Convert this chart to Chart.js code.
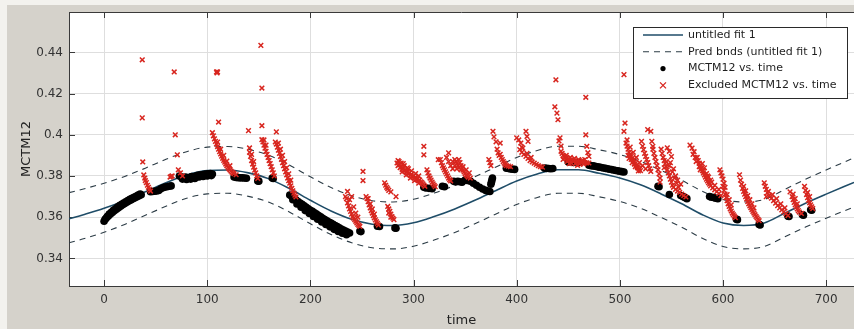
<!DOCTYPE html>
<html lang="en">
<head>
  <meta charset="UTF-8">
  <title>MCTM12 vs. time</title>
  <script src="https://cdn.jsdelivr.net/npm/chart.js"></script>
  <style>
    html, body { margin: 0; padding: 0; overflow: hidden; background: #f3f2ee; }
    canvas { display: block; }
  </style>
</head>
<body>
  <canvas id="fitChart" width="854" height="329"></canvas>

  <script>
    // fitted curve and prediction bounds, sampled along time
    const fitTime  = [-34, -20, 0, 20, 40, 60, 80, 100, 120, 140, 160, 180, 200, 220, 240, 260, 280, 300, 320, 340, 360,
                      380, 400, 420, 440, 460, 480, 500, 520, 540, 560, 580, 600, 620, 640, 660, 680, 700, 727];
    const fitValue = [0.3592, 0.3612, 0.3643, 0.3680, 0.3723, 0.3767, 0.3805, 0.3826, 0.3829, 0.3815, 0.3786, 0.3738,
                      0.3682, 0.3630, 0.3590, 0.3566, 0.3560, 0.3573, 0.3603, 0.3640, 0.3683, 0.3730, 0.3776, 0.3810,
                      0.3830, 0.3830, 0.3813, 0.3790, 0.3757, 0.3713, 0.3665, 0.3612, 0.3572, 0.3560, 0.3572, 0.3620,
                      0.3668, 0.3712, 0.3769];
    const upperBound = [0.3719, 0.3737, 0.3765, 0.3798, 0.3838, 0.3881, 0.3918, 0.3940, 0.3943, 0.3929, 0.3900, 0.3852,
                        0.3796, 0.3744, 0.3704, 0.3680, 0.3674, 0.3687, 0.3717, 0.3754, 0.3797, 0.3844, 0.3890, 0.3924,
                        0.3944, 0.3944, 0.3927, 0.3904, 0.3871, 0.3827, 0.3779, 0.3726, 0.3686, 0.3674, 0.3686, 0.3735,
                        0.3784, 0.3829, 0.3888];
    const lowerBound = [0.3476, 0.3495, 0.3527, 0.3565, 0.3609, 0.3653, 0.3692, 0.3713, 0.3716, 0.3701, 0.3672, 0.3624,
                        0.3568, 0.3516, 0.3476, 0.3452, 0.3446, 0.3459, 0.3489, 0.3526, 0.3569, 0.3616, 0.3662, 0.3696,
                        0.3716, 0.3716, 0.3699, 0.3676, 0.3643, 0.3599, 0.3551, 0.3498, 0.3458, 0.3446, 0.3458, 0.3505,
                        0.3552, 0.3595, 0.3650];

    // MCTM12 samples used in the fit: [time, value]
    const included = [
      [0,0.3580],[1,0.3590],[2,0.3595],[3,0.3603],[4,0.3605],[5,0.3615],[6,0.3614],[7,0.3624],[8,0.3623],[9,0.3633],
      [10,0.3631],[11,0.3641],[12,0.3639],[13,0.3649],[14,0.3646],[15,0.3656],[16,0.3653],[17,0.3663],[18,0.3660],
      [19,0.3669],[20,0.3666],[21,0.3675],[22,0.3672],[23,0.3681],[24,0.3678],[25,0.3687],[26,0.3684],[27,0.3692],
      [28,0.3689],[29,0.3697],[30,0.3694],[31,0.3702],[32,0.3699],[33,0.3707],[34,0.3704],[35,0.3712],[36,0.3709],
      [45,0.3724],[47,0.3725],[49,0.3726],[51,0.3727],[53,0.3730],[55,0.3738],[57,0.3743],[59,0.3746],[61,0.3748],
      [63,0.3750],[65,0.3752],
      [73,0.3800],[75,0.3795],[77,0.3792],[79,0.3795],[81,0.3790],[83,0.3793],[85,0.3797],[87,0.3795],[89,0.3800],
      [91,0.3803],[93,0.3805],[95,0.3806],[97,0.3808],[99,0.3810],[101,0.3811],[103,0.3812],[105,0.3810],
      [76,0.3785],[80,0.3783],[84,0.3785],[88,0.3788],[92,0.3795],[96,0.3798],[100,0.3800],[104,0.3802],
      [126,0.3795],[128,0.3793],[130,0.3792],[132,0.3791],[134,0.3791],[136,0.3790],[138,0.3789],
      [149,0.3776],[150,0.3775],[163,0.3790],[164,0.3788],
      [180,0.3708],[182,0.3700],[184,0.3692],[186,0.3684],[188,0.3676],[190,0.3669],[192,0.3662],[194,0.3655],
      [196,0.3648],[198,0.3641],[200,0.3634],[202,0.3628],[204,0.3621],[206,0.3615],[208,0.3608],[210,0.3602],
      [212,0.3595],[214,0.3589],[216,0.3583],[218,0.3577],[220,0.3571],[222,0.3565],[224,0.3560],[226,0.3554],
      [228,0.3549],[230,0.3543],[232,0.3538],[234,0.3533],[236,0.3528],[238,0.3523],
      [183,0.3685],[187,0.3664],[191,0.3648],[195,0.3632],[199,0.3618],[203,0.3603],[207,0.3590],[211,0.3577],
      [215,0.3565],[219,0.3553],[223,0.3541],[227,0.3531],[231,0.3522],[235,0.3515],
      [248,0.3533],[249,0.3530],[265,0.3556],[267,0.3555],[282,0.3548],[283,0.3546],
      [310,0.3745],[312,0.3742],[315,0.3740],[318,0.3738],[328,0.3750],[330,0.3748],
      [339,0.3774],[341,0.3772],[343,0.3774],[345,0.3772],[347,0.3770],[350,0.3780],[352,0.3778],
      [355,0.3775],[358,0.3765],[361,0.3755],[364,0.3745],[367,0.3737],[370,0.3730],[372,0.3727],[374,0.3725],
      [375,0.3760],[375.5,0.3770],[376,0.3780],[376.5,0.3790],
      [390,0.3838],[392,0.3836],[394,0.3834],[396,0.3833],[398,0.3832],
      [427,0.3838],[429,0.3837],[431,0.3836],[433,0.3835],[435,0.3836],
      [450,0.3868],[455,0.3866],[460,0.3865],
      [470,0.3852],[472,0.3850],[474,0.3849],[476,0.3847],[478,0.3845],[480,0.3843],[482,0.3841],[484,0.3839],
      [486,0.3837],[488,0.3835],[490,0.3833],[492,0.3831],[494,0.3829],[496,0.3827],[498,0.3825],[500,0.3823],
      [502,0.3821],[504,0.3819],
      [537,0.3750],[538,0.3748],[548,0.3710],[559,0.3705],[561,0.3700],[563,0.3695],[565,0.3690],
      [587,0.3700],[589,0.3697],[591,0.3695],[593,0.3692],[595,0.3690],
      [613,0.3590],[614,0.3588],[635,0.3565],[636,0.3562],[663,0.3605],[664,0.3603],
      [677,0.3612],[678,0.3610],[685,0.3636],[686,0.3634]
    ];

    // MCTM12 samples excluded from the fit: [time, value]
    const excluded = [
      [37,0.4364],[37,0.4082],[37.5,0.3868],[38.5,0.3805],[39.5,0.3790],[40,0.3778],[41,0.3768],[42,0.3755],
      [43,0.3745],[44,0.3735],[45,0.3727],
      [64,0.3795],[65,0.3798],[66,0.3800],[68,0.4305],[69,0.4000],[71,0.3903],[72,0.3830],[74,0.3815],[76,0.3800],
      [109,0.4305],[110,0.4305],[109.5,0.4300],[111,0.4062],[105,0.4010],[106,0.3995],[107,0.3980],[108,0.3968],
      [109,0.3955],[110,0.3943],[111,0.3930],[112,0.3918],[113,0.3907],[114,0.3896],[115,0.3886],[116,0.3876],
      [117,0.3867],[118,0.3858],[119,0.3850],[120,0.3843],[121,0.3836],[122,0.3830],[123,0.3824],[124,0.3819],
      [125,0.3815],[126,0.3811],[128,0.3806],[110,0.3965],[113,0.3930],[116,0.3900],[119,0.3872],[122,0.3850],
      [140,0.4020],[141,0.3936],[141,0.3915],[142,0.3895],[143,0.3875],[144,0.3858],[145,0.3843],[146,0.3828],
      [147,0.3815],[148,0.3800],[149,0.3788],[143,0.3905],[145,0.3870],
      [152,0.4434],[153,0.4227],[153,0.4044],[153,0.3976],[154,0.3965],[155,0.3950],[156,0.3935],[157,0.3920],
      [158,0.3905],[159,0.3890],[160,0.3875],[161,0.3860],[162,0.3845],[163,0.3830],[164,0.3815],[165,0.3800],
      [155,0.3975],[157,0.3950],
      [167,0.4014],[166,0.3965],[167,0.3955],[168,0.3940],[169,0.3925],[170,0.3910],[171,0.3895],[172,0.3880],
      [173,0.3865],[174,0.3850],[175,0.3835],[176,0.3820],[177,0.3805],[178,0.3790],[179,0.3777],[180,0.3765],
      [181,0.3752],[182,0.3740],[183,0.3728],[184,0.3717],[185,0.3707],[186,0.3698],
      [169,0.3960],[171,0.3930],[173,0.3900],[175,0.3870],[177,0.3840],[179,0.3810],[181,0.3780],
      [236,0.3725],[234,0.3700],[235,0.3690],[236,0.3669],[237,0.3655],[238,0.3640],[239,0.3628],[240,0.3615],
      [241,0.3603],[242,0.3595],[243,0.3588],[244,0.3580],[245,0.3572],[246,0.3565],[247,0.3560],[248,0.3555],
      [240,0.3700],[238,0.3685],[242,0.3650],[244,0.3620],[246,0.3600],
      [251,0.3822],[251,0.3778],[254,0.3700],[255,0.3690],[256,0.3675],[257,0.3660],[258,0.3645],[259,0.3632],
      [260,0.3620],[261,0.3608],[262,0.3597],[263,0.3587],[264,0.3578],[265,0.3570],[266,0.3562],
      [256,0.3690],[258,0.3665],[260,0.3640],[262,0.3615],
      [272,0.3767],[274,0.3745],[276,0.3730],[278,0.3723],[273,0.3755],[275,0.3738],[283,0.3700],
      [275,0.3652],[276,0.3640],[277,0.3628],[278,0.3615],[279,0.3603],[280,0.3595],[281,0.3588],
      [276,0.3620],[278,0.3600],
      [284,0.3863],[285,0.3850],[286,0.3855],[287,0.3840],[288,0.3845],[289,0.3832],[290,0.3838],[291,0.3825],
      [292,0.3830],[293,0.3818],[294,0.3822],[295,0.3810],[296,0.3815],[297,0.3803],[298,0.3808],[299,0.3797],
      [300,0.3800],[301,0.3790],[302,0.3793],[303,0.3784],[304,0.3786],[305,0.3778],[306,0.3780],[307,0.3772],
      [308,0.3768],[309,0.3762],[310,0.3756],[311,0.3750],[286,0.3870],[290,0.3860],[294,0.3840],
      [285,0.3875],[288,0.3862],[291,0.3850],[295,0.3835],[298,0.3825],[302,0.3812],[305,0.3800],
      [289,0.3820],[293,0.3805],[297,0.3790],[301,0.3778],[305,0.3765],
      [310,0.3944],[310,0.3903],[313,0.3830],[314,0.3815],[315,0.3800],[316,0.3790],[317,0.3780],[318,0.3770],
      [319,0.3762],[320,0.3755],[321,0.3748],
      [324,0.3879],[326,0.3880],[334,0.3912],[327,0.3865],[328,0.3850],[329,0.3840],[330,0.3830],[331,0.3820],
      [332,0.3810],[333,0.3800],[334,0.3790],[335,0.3782],[336,0.3776],[332,0.3890],[334,0.3870],[336,0.3850],
      [338,0.3835],[338,0.3870],[340,0.3850],[342,0.3835],
      [340,0.3880],[341,0.3870],[342,0.3860],[343,0.3850],[344,0.3880],[345,0.3865],[346,0.3850],[347,0.3838],
      [348,0.3828],[349,0.3820],[350,0.3812],[351,0.3805],[352,0.3800],[353,0.3795],[355,0.3790],[344,0.3840],
      [346,0.3830],[348,0.3845],[351,0.3830],[354,0.3815],
      [373,0.3880],[374,0.3865],[375,0.3850],[377,0.4017],[378,0.3990],[380,0.3966],[384,0.3960],[382,0.3912],
      [383,0.3900],[385,0.3890],[386,0.3880],[387,0.3870],[388,0.3862],[389,0.3855],[390,0.3850],[392,0.3848],
      [394,0.3845],[381,0.3930],[384,0.3905],
      [400,0.3985],[402,0.3975],[404,0.3960],[405,0.3940],[409,0.4017],[410,0.3992],[411,0.3968],[403,0.3928],
      [405,0.3915],[407,0.3905],[409,0.3895],[411,0.3885],[413,0.3875],[415,0.3868],[417,0.3862],[419,0.3856],
      [421,0.3850],[423,0.3846],[425,0.3843],[406,0.3935],[410,0.3910],[414,0.3890],
      [438,0.4267],[437,0.4136],[439,0.4105],[440,0.4073],[442,0.3985],[443,0.3945],[441,0.3970],[443,0.3920],
      [444,0.3910],[445,0.3900],[446,0.3895],[447,0.3890],[448,0.3885],[450,0.3880],[452,0.3877],[454,0.3875],
      [456,0.3873],[458,0.3870],[460,0.3868],[462,0.3868],[464,0.3866],[466,0.3865],[468,0.3864],[470,0.3863],
      [445,0.3880],[449,0.3870],[453,0.3862],[457,0.3860],[461,0.3858],[465,0.3858],[467,0.4182],[467,0.4000],
      [468,0.3944],[469,0.3913],[470,0.3895],[466,0.3880],
      [448,0.3900],[452,0.3890],[456,0.3885],[460,0.3880],[464,0.3876],[451,0.3860],[459,0.3852],
      [504,0.4292],[505,0.4057],[504,0.4017],[506,0.3960],[507,0.3945],[508,0.3930],[509,0.3915],[510,0.3905],
      [511,0.3895],[512,0.3885],[513,0.3876],[514,0.3868],[515,0.3860],[516,0.3852],[517,0.3845],[518,0.3838],
      [519,0.3832],[520,0.3826],[508,0.3900],[511,0.3880],[514,0.3858],[517,0.3840],
      [507,0.3975],[510,0.3940],[513,0.3915],[516,0.3890],[519,0.3865],[522,0.3850],[525,0.3835],
      [509,0.3885],[512,0.3865],[515,0.3845],[518,0.3825],
      [521,0.3968],[522,0.3945],[523,0.3928],[524,0.3910],[525,0.3895],[526,0.3880],[527,0.3865],[528,0.3850],
      [529,0.3835],[530,0.3822],[527,0.4025],[530,0.4017],[531,0.3968],[532,0.3944],[532,0.3930],[533,0.3910],
      [534,0.3890],[535,0.3870],[536,0.3850],[537,0.3830],[538,0.3810],[539,0.3790],[539,0.3770],
      [546,0.3937],[548,0.3920],[550,0.3894],[542,0.3890],[543,0.3875],[544,0.3860],[545,0.3845],[546,0.3830],
      [547,0.3815],[548,0.3800],[549,0.3785],[550,0.3770],[551,0.3755],[552,0.3745],[554,0.3735],[556,0.3727],
      [558,0.3720],[560,0.3712],[562,0.3705],[564,0.3698],[545,0.3870],[548,0.3850],[551,0.3820],[553,0.3790],
      [555,0.3765],[557,0.3745],[540,0.3930],[541,0.3910],[543,0.3840],
      [549,0.3865],[552,0.3835],[554,0.3800],[556,0.3780],[559,0.3760],
      [568,0.3950],[570,0.3935],[572,0.3918],[575,0.3890],[576,0.3875],[577,0.3862],[578,0.3850],[579,0.3838],
      [580,0.3826],[581,0.3815],[582,0.3805],[583,0.3795],[584,0.3785],[585,0.3776],[586,0.3768],[587,0.3760],
      [588,0.3752],[590,0.3742],[592,0.3733],[594,0.3724],[596,0.3715],[598,0.3705],[571,0.3905],[573,0.3890],
      [578,0.3830],[580,0.3860],[582,0.3840],[584,0.3812],[586,0.3795],[588,0.3780],
      [574,0.3870],[577,0.3845],[581,0.3825],[585,0.3800],[589,0.3770],[592,0.3755],[596,0.3735],
      [597,0.3830],[598,0.3815],[599,0.3800],[600,0.3750],[601,0.3730],[602,0.3712],[603,0.3695],[604,0.3680],
      [605,0.3665],[606,0.3652],[607,0.3640],[608,0.3630],[609,0.3620],[610,0.3612],[611,0.3605],[612,0.3598],
      [600,0.3785],[601,0.3765],[602,0.3745],[604,0.3710],[606,0.3685],[608,0.3660],
      [616,0.3806],[617,0.3780],[618,0.3760],[619,0.3740],[620,0.3725],[621,0.3712],[622,0.3700],[623,0.3688],
      [624,0.3676],[625,0.3665],[626,0.3655],[627,0.3646],[628,0.3637],[629,0.3628],[630,0.3620],[631,0.3612],
      [632,0.3604],[633,0.3597],[634,0.3590],[635,0.3583],[620,0.3750],[622,0.3728],[624,0.3705],[626,0.3685],
      [628,0.3665],[630,0.3645],
      [640,0.3767],[641,0.3750],[642,0.3735],[643,0.3718],[645,0.3705],[647,0.3692],[649,0.3680],[651,0.3668],
      [653,0.3656],[655,0.3645],[657,0.3635],[659,0.3626],[661,0.3617],[663,0.3608],[642,0.3700],[644,0.3725],
      [648,0.3710],[652,0.3690],[656,0.3665],[660,0.3645],
      [665,0.3723],[667,0.3700],[668,0.3685],[669,0.3672],[670,0.3660],[671,0.3650],[672,0.3640],[673,0.3632],
      [674,0.3625],[676,0.3618],[668,0.3712],[670,0.3690],[672,0.3665],
      [679,0.3750],[680,0.3730],[681,0.3710],[682,0.3695],[683,0.3682],[684,0.3670],[685,0.3660],[686,0.3650],
      [687,0.3642],[682,0.3720],[684,0.3700]
    ];

    const xTicks = [0, 100, 200, 300, 400, 500, 600, 700];
    const yTicks = [0.34, 0.36, 0.38, 0.40, 0.42, 0.44];
    const yTickLabels = ['0.34', '0.36', '0.38', '0.4', '0.42', '0.44'];
    const legendLabels = ['untitled fit 1', 'Pred bnds (untitled fit 1)', 'MCTM12 vs. time', 'Excluded MCTM12 vs. time'];

    const FONT = '"DejaVu Sans", sans-serif';
    const fitColor = '#1f4d68';
    const bandColor = '#2c3c46';
    const dotColor = '#000000';
    const crossColor = '#d8261f';

    const toXY = (xs, ys) => xs.map((x, i) => ({ x: x, y: ys[i] }));
    const pairs = (list) => list.map((p) => ({ x: p[0], y: p[1] }));

    // grey figure background, white axes, top border and inward ticks
    const figureFrame = {
      id: 'figureFrame',
      beforeDraw(chart) {
        const { ctx, width, height, chartArea: a } = chart;
        ctx.save();
        ctx.fillStyle = '#f3f2ee';
        ctx.fillRect(0, 0, width, height);
        ctx.fillStyle = '#d5d2cb';
        ctx.fillRect(7, 5, width - 7, height - 5);
        ctx.fillStyle = '#ffffff';
        ctx.fillRect(a.left, a.top, a.right - a.left, a.bottom - a.top);
        ctx.restore();
      },
      beforeDatasetsDraw(chart) {
        const { ctx, chartArea: a, scales } = chart;
        ctx.save();
        ctx.strokeStyle = '#3a3a3a';
        ctx.lineWidth = 1;
        ctx.beginPath();
        ctx.moveTo(a.left, a.top + 0.5);
        ctx.lineTo(a.right, a.top + 0.5);
        xTicks.forEach((v) => {
          const px = Math.round(scales.x.getPixelForValue(v)) + 0.5;
          ctx.moveTo(px, a.bottom);
          ctx.lineTo(px, a.bottom - 6);
          ctx.moveTo(px, a.top);
          ctx.lineTo(px, a.top + 6);
        });
        yTicks.forEach((v) => {
          const py = Math.round(scales.y.getPixelForValue(v)) + 0.5;
          ctx.moveTo(a.left, py);
          ctx.lineTo(a.left + 6, py);
        });
        ctx.stroke();
        ctx.restore();
      }
    };

    // boxed legend in the upper right corner of the axes
    const boxLegend = {
      id: 'boxLegend',
      afterDraw(chart) {
        const { ctx, chartArea: a } = chart;
        const x0 = a.right - 221, y0 = a.top + 15, w = 214, h = 71, row = 16.8;
        ctx.save();
        ctx.fillStyle = '#ffffff';
        ctx.fillRect(x0, y0, w, h);
        ctx.strokeStyle = '#2a2a2a';
        ctx.lineWidth = 1;
        ctx.strokeRect(x0 + 0.5, y0 + 0.5, w, h);

        const cy = (i) => y0 + 8 + i * row;
        ctx.strokeStyle = fitColor;
        ctx.lineWidth = 1.6;
        ctx.beginPath();
        ctx.moveTo(x0 + 10, cy(0));
        ctx.lineTo(x0 + 50, cy(0));
        ctx.stroke();

        ctx.strokeStyle = bandColor;
        ctx.lineWidth = 1.1;
        ctx.setLineDash([6, 5]);
        ctx.beginPath();
        ctx.moveTo(x0 + 10, cy(1));
        ctx.lineTo(x0 + 50, cy(1));
        ctx.stroke();
        ctx.setLineDash([]);

        ctx.fillStyle = dotColor;
        ctx.beginPath();
        ctx.arc(x0 + 30, cy(2), 2.6, 0, Math.PI * 2);
        ctx.fill();

        ctx.strokeStyle = crossColor;
        ctx.lineWidth = 1.3;
        ctx.beginPath();
        ctx.moveTo(x0 + 27, cy(3) - 3);
        ctx.lineTo(x0 + 33, cy(3) + 3);
        ctx.moveTo(x0 + 33, cy(3) - 3);
        ctx.lineTo(x0 + 27, cy(3) + 3);
        ctx.stroke();

        ctx.fillStyle = '#1e1e1e';
        ctx.font = '11px ' + FONT;
        ctx.textBaseline = 'middle';
        ctx.textAlign = 'left';
        legendLabels.forEach((t, i) => ctx.fillText(t, x0 + 55, cy(i)));
        ctx.restore();
      }
    };

    const ctx = document.getElementById('fitChart').getContext('2d');
    new Chart(ctx, {
      type: 'scatter',
      data: {
        datasets: [
          {
            label: legendLabels[3],
            data: pairs(excluded),
            pointStyle: 'crossRot',
            pointRadius: 3.3,
            borderColor: crossColor,
            borderWidth: 1.5,
            order: 0
          },
          {
            label: legendLabels[2],
            data: pairs(included),
            pointStyle: 'circle',
            pointRadius: 3.8,
            backgroundColor: dotColor,
            borderColor: dotColor,
            borderWidth: 0,
            order: 1
          },
          {
            label: legendLabels[0],
            data: toXY(fitTime, fitValue),
            showLine: true,
            pointRadius: 0,
            borderColor: fitColor,
            borderWidth: 1.6,
            cubicInterpolationMode: 'monotone',
            order: 2
          },
          {
            label: legendLabels[1],
            data: toXY(fitTime, upperBound),
            showLine: true,
            pointRadius: 0,
            borderColor: bandColor,
            borderWidth: 1.1,
            borderDash: [6, 5],
            cubicInterpolationMode: 'monotone',
            order: 3
          },
          {
            label: legendLabels[1],
            data: toXY(fitTime, lowerBound),
            showLine: true,
            pointRadius: 0,
            borderColor: bandColor,
            borderWidth: 1.1,
            borderDash: [6, 5],
            cubicInterpolationMode: 'monotone',
            order: 3
          }
        ]
      },
      options: {
        responsive: false,
        devicePixelRatio: 1,
        animation: false,
        layout: { autoPadding: false, padding: { top: 12, left: 0, right: 0, bottom: 0 } },
        plugins: { legend: { display: false }, tooltip: { enabled: false } },
        scales: {
          x: {
            type: 'linear',
            min: -34,
            max: 727,
            afterBuildTicks: (scale) => { scale.ticks = xTicks.map((v) => ({ value: v })); },
            afterFit: (scale) => { scale.height = 43; scale.paddingLeft = 0; scale.paddingRight = 0; },
            grid: { color: '#dedede', drawTicks: false },
            border: { color: '#3a3a3a', width: 1 },
            ticks: { color: '#333', font: { family: FONT, size: 12 }, padding: 7, maxRotation: 0 },
            title: { display: true, text: 'time', color: '#222', font: { family: FONT, size: 13 }, padding: { top: 0, bottom: 1 } }
          },
          y: {
            type: 'linear',
            min: 0.3266,
            max: 0.4596,
            afterBuildTicks: (scale) => { scale.ticks = yTicks.map((v) => ({ value: v })); },
            afterFit: (scale) => { scale.width = 69; scale.paddingTop = 0; scale.paddingBottom = 0; },
            grid: { color: '#dedede', drawTicks: false },
            border: { color: '#3a3a3a', width: 1 },
            ticks: {
              color: '#333',
              font: { family: FONT, size: 12 },
              padding: 6,
              callback: (value, index) => yTickLabels[index]
            },
            title: { display: true, text: 'MCTM12', color: '#222', font: { family: FONT, size: 13 }, padding: { top: 19, bottom: 0 } }
          }
        }
      },
      plugins: [figureFrame, boxLegend]
    });
  </script>
</body>
</html>
